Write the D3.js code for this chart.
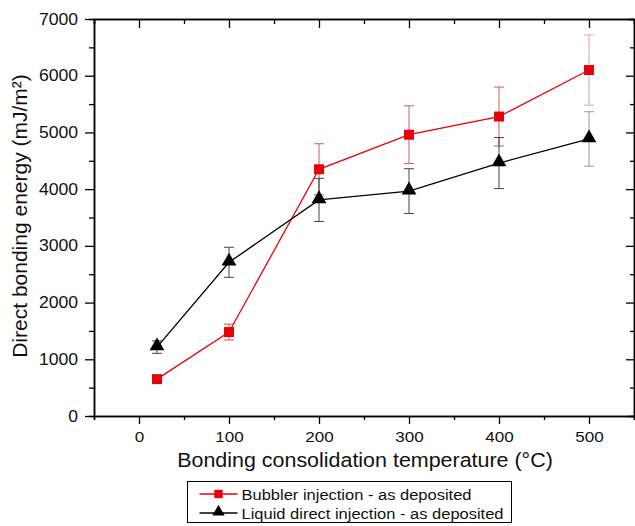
<!DOCTYPE html>
<html>
<head>
<meta charset="utf-8">
<script src="https://d3js.org/d3.v7.min.js"></script>
<style>
  body { margin: 0; background: #fff; }
  text { font-family: "Liberation Sans", Arial, sans-serif; fill: #111; }
</style>
</head>
<body>
<div id="chart"></div>
<script>
var svgWidth = 635;
var svgHeight = 526;

// plot box
var margin = { top: 19, right: 1, bottom: 110, left: 94 };
var width = svgWidth - margin.left - margin.right;
var height = svgHeight - margin.top - margin.bottom;

// the picture text is a little wider than plain Arial
var stretch = 1.1;

// data
var temps = [20, 100, 200, 300, 400, 500];
var bubbler = [650, 1480, 4350, 4960, 5280, 6100];
var bubblerErr = [40, 140, 450, 510, 520, 620];
var liquid = [1215, 2710, 3810, 3965, 4460, 4885];
var liquidErr = [110, 265, 380, 395, 450, 480];

var xTicks = [0, 100, 200, 300, 400, 500];
var yTicks = [0, 1000, 2000, 3000, 4000, 5000, 6000, 7000];
var seriesNames = ["Bubbler injection - as deposited", "Liquid direct injection - as deposited"];

var svg = d3.select("#chart")
  .append("svg")
  .attr("width", svgWidth)
  .attr("height", svgHeight);

var chartGroup = svg.append("g")
  .attr("transform", `translate(${margin.left}, ${margin.top})`);

var xScale = d3.scaleLinear().domain([-50, 550]).range([0, width]);
var yScale = d3.scaleLinear().domain([0, 7000]).range([height, 0]);

var xMinor = d3.range(-50, 551, 50).filter(d => d % 100 !== 0);
var yMinor = d3.range(500, 7000, 1000);

// axes: bottom/left ticks outward, top/right ticks inward
function styleAxis(g) {
  g.select(".domain").attr("stroke", "#000").attr("stroke-width", 1.5);
  g.selectAll(".tick line").attr("stroke", "#000").attr("stroke-width", 1.3);
  g.selectAll(".tick text")
    .attr("fill", "#111")
    .style("font-size", "15.5px")
    .attr("transform", `scale(${stretch}, 1)`);
}

chartGroup.append("g")
  .attr("transform", `translate(0, ${height})`)
  .call(d3.axisBottom(xScale).tickValues(xMinor).tickSize(4).tickFormat(""))
  .call(styleAxis);
chartGroup.append("g")
  .attr("transform", `translate(0, ${height})`)
  .call(d3.axisBottom(xScale).tickValues(xTicks).tickSize(8).tickSizeOuter(0).tickPadding(7).tickFormat(d3.format("d")))
  .call(styleAxis);

chartGroup.append("g")
  .call(d3.axisTop(xScale).tickValues(xMinor).tickSize(-5).tickFormat(""))
  .call(styleAxis);
chartGroup.append("g")
  .call(d3.axisTop(xScale).tickValues(xTicks).tickSize(-9).tickSizeOuter(0).tickFormat(""))
  .call(styleAxis);

chartGroup.append("g")
  .call(d3.axisLeft(yScale).tickValues(yMinor).tickSize(5).tickFormat(""))
  .call(styleAxis);
chartGroup.append("g")
  .call(d3.axisLeft(yScale).tickValues(yTicks).tickSize(9).tickSizeOuter(0).tickFormat(d3.format("d")))
  .call(styleAxis)
  .call(g => g.selectAll(".tick text").attr("x", -16 / stretch).style("font-size", "16px"));

chartGroup.append("g")
  .attr("transform", `translate(${width}, 0)`)
  .call(d3.axisRight(yScale).tickValues(yMinor).tickSize(-4).tickFormat(""))
  .call(styleAxis);
chartGroup.append("g")
  .attr("transform", `translate(${width}, 0)`)
  .call(d3.axisRight(yScale).tickValues(yTicks).tickSize(-8).tickSizeOuter(0).tickFormat(""))
  .call(styleAxis);

// build series
var series = [
  { name: seriesNames[0], values: bubbler, err: bubblerErr, color: "#e8000b", errColor: "#c94a4a", shape: d3.symbolSquare, size: 100 },
  { name: seriesNames[1], values: liquid, err: liquidErr, color: "#000", errColor: "#333", shape: d3.symbolTriangle, size: 95 }
];

var line = d3.line()
  .x(d => xScale(d.x))
  .y(d => yScale(d.y));

series.forEach(function(s) {
  var pts = temps.map((t, i) => ({ x: t, y: s.values[i], e: s.err[i] }));

  chartGroup.append("path")
    .datum(pts)
    .attr("fill", "none")
    .attr("stroke", s.color)
    .attr("stroke-width", 1.3)
    .attr("d", line);

  // error bars
  var eb = chartGroup.append("g").selectAll("g")
    .data(pts)
    .enter()
    .append("g")
    .attr("stroke", s.errColor)
    .attr("stroke-width", 1)
    .attr("opacity", (d, i) => i === pts.length - 1 ? 0.5 : 0.9);

  eb.append("line")
    .attr("x1", d => xScale(d.x))
    .attr("x2", d => xScale(d.x))
    .attr("y1", d => yScale(d.y + d.e))
    .attr("y2", d => yScale(d.y - d.e));
  eb.append("line")
    .attr("x1", d => xScale(d.x) - 5)
    .attr("x2", d => xScale(d.x) + 5)
    .attr("y1", d => yScale(d.y + d.e))
    .attr("y2", d => yScale(d.y + d.e));
  eb.append("line")
    .attr("x1", d => xScale(d.x) - 5)
    .attr("x2", d => xScale(d.x) + 5)
    .attr("y1", d => yScale(d.y - d.e))
    .attr("y2", d => yScale(d.y - d.e));

  chartGroup.append("g").selectAll("path")
    .data(pts)
    .enter()
    .append("path")
    .attr("transform", d => `translate(${xScale(d.x)}, ${yScale(d.y) + (s.shape === d3.symbolTriangle ? -1 : 0)})`)
    .attr("d", d3.symbol().type(s.shape).size(s.size))
    .attr("fill", s.color);
});

// axis titles
chartGroup.append("text")
  .attr("transform", "rotate(-90)")
  .attr("x", -197)
  .attr("y", -67)
  .attr("text-anchor", "middle")
  .style("font-size", "21px")
  .text("Direct bonding energy (mJ/m²)");

chartGroup.append("text")
  .attr("transform", `translate(271, ${height + 51}) scale(${stretch}, 1)`)
  .attr("text-anchor", "middle")
  .style("font-size", "19.5px")
  .text("Bonding consolidation temperature (°C)");

// legend
var legend = svg.append("g").attr("transform", "translate(187.5, 481.5)");
legend.append("rect")
  .attr("width", 324)
  .attr("height", 41)
  .attr("fill", "#fff")
  .attr("stroke", "#000")
  .attr("stroke-width", 1);

series.forEach(function(s, i) {
  var row = legend.append("g").attr("transform", `translate(0, ${12.5 + i * 19})`);
  row.append("line")
    .attr("x1", 12).attr("x2", 50)
    .attr("stroke", s.color).attr("stroke-width", 1.3);
  row.append("path")
    .attr("transform", `translate(31, ${s.shape === d3.symbolTriangle ? -1 : 0})`)
    .attr("d", d3.symbol().type(s.shape).size(s.size * 0.7))
    .attr("fill", s.color);
  row.append("text")
    .attr("transform", `translate(54, 5.5) scale(${stretch}, 1)`)
    .style("font-size", "15px")
    .text(s.name);
});
</script>
</body>
</html>
